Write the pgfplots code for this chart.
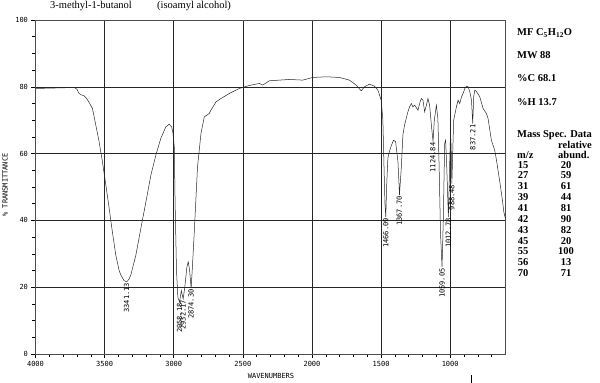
\documentclass[border=0pt]{standalone}
\usepackage{fontspec}
\setmainfont{Liberation Serif}
\newfontfamily\monofont{DejaVu Sans Mono}
\usepackage{pgfplots}
\usepackage{pgfplotstable}
\pgfplotsset{compat=1.18}

\pgfplotstableread{
wn T
4000 79.5
3900 79.6
3800 79.7
3720 79.8
3700 79.3
3685 78.0
3670 77.6
3649 77.3
3630 76.5
3612 75.3
3588 73.5
3564 68.6
3540 63.6
3516 57.6
3491 50.6
3467 43.6
3444 36.6
3419 29.6
3395 25.0
3383 23.7
3360 22.0
3341 21.6
3325 22.3
3310 23.7
3274 29.6
3238 37.6
3201 45.6
3165 53.6
3129 59.6
3093 64.6
3057 68.0
3033 68.8
3015 68.0
3005 66.0
2996 62.0
2990 45.0
2980 25.0
2970 17.0
2958 15.5
2945 19.0
2932 16.5
2920 20.0
2905 26.0
2895 27.6
2885 25.0
2874 19.7
2865 26.0
2852 36.0
2828 56.0
2803 66.0
2779 71.0
2743 72.0
2731 73.0
2694 75.5
2658 76.5
2598 78.0
2525 79.5
2453 80.4
2381 81.0
2357 80.5
2308 81.8
2163 82.2
2067 82.0
1994 82.8
1897 83.0
1801 82.8
1729 82.0
1680 80.5
1644 78.8
1620 80.0
1584 80.8
1548 80.2
1523 79.0
1499 76.0
1487 70.0
1480 58.0
1472 45.0
1466 41.0
1460 50.0
1451 58.6
1444 60.0
1433 61.5
1424 62.6
1410 64.0
1395 63.6
1378 57.6
1371 51.6
1367 47.6
1360 52.0
1354 55.6
1342 65.6
1330 68.6
1306 72.5
1294 74.0
1281 75.0
1270 74.0
1257 74.5
1233 73.0
1221 75.0
1209 76.5
1197 76.0
1185 72.5
1172 74.5
1161 76.5
1149 74.5
1135 68.0
1124 63.6
1115 70.0
1100 74.5
1089 70.5
1080 56.0
1070 36.0
1059 26.0
1050 40.0
1040 63.0
1033 64.0
1025 56.0
1013 41.0
1005 55.0
998 66.0
993 62.0
988 51.0
982 60.0
975 70.0
955 74.0
943 76.0
931 75.0
918 77.0
907 78.0
894 79.5
882 80.2
870 80.0
858 78.5
846 76.0
837 69.0
830 77.0
822 79.0
810 78.6
786 77.0
762 73.5
738 72.0
726 70.5
702 64.0
678 61.0
665 58.0
641 51.5
622 46.0
612 42.5
600 40.5
}\spectrum

\begin{document}
\begin{tikzpicture}[x=1pt,y=1pt]
\useasboundingbox (0,0) rectangle (600,-383);
\begin{axis}[
  at={(35.5pt,-354pt)}, anchor=south west,
  width=470pt, height=334pt, scale only axis,
  x dir=reverse, xmin=600, xmax=4000, ymin=0, ymax=100,
  xtick={1000,1500,2000,2500,3000,3500,4000},
  minor xtick={700,800,...,3900},
  ytick={0,20,40,60,80,100},
  minor ytick={5,10,...,95},
  xtick pos=left, ytick pos=left,
  tick align=outside,
  major tick length=4pt, minor tick length=3pt,
  grid=major,
  major grid style={black!85, line width=0.6pt},
  axis line style={black!70, line width=0.5pt},
  tick style={black, line width=0.5pt},
  ticklabel style={font=\fontsize{7}{8}\selectfont\monofont},
  /pgf/number format/assume math mode=true,
  /pgf/number format/1000 sep={},
  clip=false,
]
\addplot[black!85, line width=0.5pt] table[x=wn, y=T] {\spectrum};
\begin{scope}[every node/.style={rotate=90, anchor=east, inner sep=1pt, font=\fontsize{7}{8}\selectfont\monofont}]
\node at (axis cs:3341.13,21.6) {3341.13};
\node at (axis cs:2958.18,15.5) {2958.18};
\node at (axis cs:2932.17,16.5) {2932.17};
\node at (axis cs:2874.30,19.7) {2874.30};
\node at (axis cs:1466.09,41) {1466.09};
\node at (axis cs:1367.70,47.6) {1367.70};
\node at (axis cs:1124.84,63.6) {1124.84};
\node at (axis cs:1059.05,26) {1059.05};
\node at (axis cs:1012.78,41) {1012.78};
\node at (axis cs:988.48,51) {988.48};
\node at (axis cs:837.21,69) {837.21};
\end{scope}
\end{axis}
% axis titles
\node[rotate=90, font=\fontsize{7}{8}\selectfont\monofont] at (5,-185) {\% TRANSMITTANCE};
\node[anchor=base, font=\fontsize{7}{8}\selectfont\monofont] at (271,-378) {WAVENUMBERS};
\draw[black, line width=0.7pt] (471,-375) -- (471,-383);
% title
\node[anchor=base west, inner sep=0pt, font=\fontsize{10.5}{12}\selectfont] at (50,-8.5) {3-methyl-1-butanol};
\node[anchor=base west, inner sep=0pt, font=\fontsize{10.5}{12}\selectfont] at (157,-8.5) {(isoamyl alcohol)};
% right block
\begin{scope}[every node/.style={anchor=base west, inner sep=0pt, font=\fontsize{10.5}{12}\selectfont\bfseries}]
\node at (517,-35.5) {MF C\textsubscript{5}H\textsubscript{12}O};
\node at (517,-58) {MW 88};
\node at (517,-81.5) {\%C 68.1};
\node at (517,-105) {\%H 13.7};
\node at (517,-137.5) {Mass Spec. Data};
\node at (558,-148.5) {relative};
\node at (517,-158.5) {m/z};
\node at (558,-158.5) {abund.};
\end{scope}
\begin{scope}[every node/.style={anchor=base, inner sep=0pt, font=\fontsize{10.5}{12}\selectfont\bfseries}]
\foreach \m/\a [count=\i from 0] in {15/20,27/59,31/61,39/44,41/81,42/90,43/82,45/20,55/100,56/13,70/71}{
  \node at (523,-168-10.87*\i) {\m};
  \node at (566,-168-10.87*\i) {\a};
}
\end{scope}
\end{tikzpicture}
\end{document}
